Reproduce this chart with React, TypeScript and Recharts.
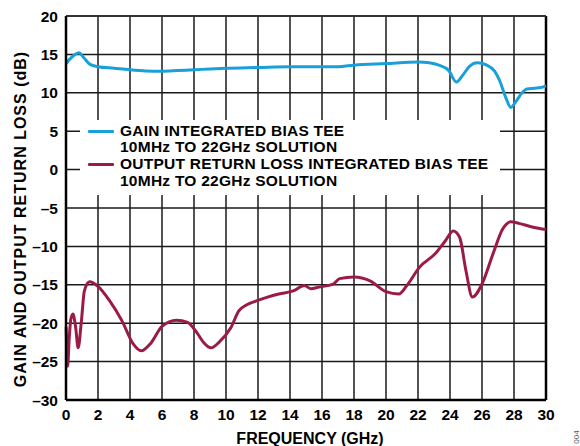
import React from 'react';
import { LineChart, Line, XAxis, YAxis, CartesianGrid, ReferenceLine } from 'recharts';

const xTicks = [0, 2, 4, 6, 8, 10, 12, 14, 16, 18, 20, 22, 24, 26, 28, 30];
const yTicks = [-30, -25, -20, -15, -10, -5, 0, 5, 10, 15, 20];

const gainFreq = [0.02, 0.2, 0.5, 0.8, 1.1, 1.5, 2, 3, 4, 5, 6, 7, 8, 9, 10, 12, 14, 16, 17, 18, 20, 22, 22.7, 23.3, 23.9, 24.4, 24.8, 25.2, 25.7, 26.3, 26.8, 27.1, 27.5, 27.8, 28.1, 28.5, 28.8, 29.3, 29.7, 30];
const gainVals = [13.8, 14.3, 14.9, 15.2, 14.6, 13.7, 13.4, 13.2, 13.0, 12.85, 12.8, 12.9, 13.0, 13.1, 13.2, 13.3, 13.4, 13.4, 13.4, 13.6, 13.8, 14.0, 13.9, 13.6, 12.95, 11.4, 12.3, 13.4, 13.9, 13.6, 12.8, 11.6, 9.3, 8.1, 8.8, 10.0, 10.5, 10.6, 10.7, 10.9];

const rlFreq = [0.01, 0.1, 0.2, 0.3, 0.43, 0.6, 0.76, 0.95, 1.15, 1.47, 2, 2.7, 3.5, 4.2, 4.7, 5.3, 6.0, 6.9, 7.6, 8.2, 8.6, 9.07, 9.6, 10.3, 10.8, 11.3, 11.9, 12.6, 13.3, 14.2, 14.9, 15.3, 15.8, 16.7, 17.1, 18.0, 19.0, 20.0, 20.8, 21.3, 22.1, 23.1, 23.7, 24.2, 24.6, 25.0, 25.4, 26.0, 26.7, 27.3, 27.8, 28.3, 29.2, 30];
const rlVals = [-20.5, -25.6, -22, -19.5, -18.8, -20.5, -23.2, -20, -15.8, -14.6, -15.2, -17.0, -19.7, -22.7, -23.6, -22.6, -20.4, -19.6, -19.9, -21.3, -22.5, -23.2, -22.4, -20.6, -18.4, -17.6, -17.1, -16.6, -16.2, -15.8, -15.1, -15.5, -15.3, -14.9, -14.2, -14.0, -14.5, -15.9, -16.2, -15.1, -12.7, -10.9, -9.3, -8.0, -8.8, -13.2, -16.6, -14.9, -10.9, -7.7, -6.8, -7.0, -7.5, -7.8];

const legendLines = [
  ['GAIN INTEGRATED BIAS TEE', '10MHz TO 22GHz SOLUTION'],
  ['OUTPUT RETURN LOSS INTEGRATED BIAS TEE', '10MHz TO 22GHz SOLUTION'],
];

const gainData = gainFreq.map((f, i) => ({ f, v: gainVals[i] }));
const rlData = rlFreq.map((f, i) => ({ f, v: rlVals[i] }));

const BLUE = '#1aa0d8';
const RED = '#9c1b45';
const FONT = '"Liberation Sans", Arial, Helvetica, sans-serif';

const fmt = (v: number) => (v < 0 ? '\u2013' + Math.abs(v) : String(v));

export default function App() {
  const tickStyle = { fill: '#000', fontSize: 15.5, fontWeight: 700, fontFamily: FONT };
  return (
    <div style={{ position: 'absolute', left: 0, top: 0, width: 580, height: 446, background: '#fff', fontFamily: FONT }}>
      <LineChart width={580} height={446} margin={{ top: 16, right: 34, bottom: 16, left: 10 }}>
        <CartesianGrid stroke="#1a1a1a" strokeWidth={1.5} strokeOpacity={1} />
        <XAxis
          type="number"
          dataKey="f"
          domain={[0, 30]}
          ticks={xTicks}
          interval={0}
          height={30}
          tickLine={false}
          tickSize={7}
          axisLine={{ stroke: '#000', strokeWidth: 2.5 }}
          tick={tickStyle}
          allowDuplicatedCategory={false}
        />
        <YAxis
          type="number"
          domain={[-30, 20]}
          ticks={yTicks}
          interval={0}
          width={56}
          tickLine={false}
          tickSize={6}
          axisLine={{ stroke: '#000', strokeWidth: 2.5 }}
          tick={tickStyle}
          tickFormatter={fmt}
        />
        <ReferenceLine x={30} stroke="#000" strokeWidth={2.5} />
        <ReferenceLine y={20} stroke="#333" strokeWidth={2} />
        <Line data={gainData} dataKey="v" type="monotone" stroke={BLUE} strokeWidth={3} dot={false} isAnimationActive={false} />
        <Line data={rlData} dataKey="v" type="monotone" stroke={RED} strokeWidth={3} dot={false} isAnimationActive={false} />
      </LineChart>
      <div style={{ position: 'absolute', left: 80, top: 120, width: 420, height: 75, background: '#fff' }}>
        {legendLines.map((lines, i) => (
          <div key={i} style={{ position: 'absolute', left: 0, top: 2.5 + i * 33.5, width: 420 }}>
            <div style={{ position: 'absolute', left: 8, top: 7, width: 26, height: 3, background: i === 0 ? BLUE : RED, borderRadius: 1 }} />
            {lines.map((t, j) => (
              <div key={j} style={{ position: 'absolute', left: 40, top: j * 16.7, fontSize: 15.5, letterSpacing: 0.25, fontWeight: 700, lineHeight: '16.7px', whiteSpace: 'nowrap', color: '#000' }}>{t}</div>
            ))}
          </div>
        ))}
      </div>
      <div style={{ position: 'absolute', left: 200, top: 430, width: 220, textAlign: 'center', fontSize: 16, fontWeight: 700, lineHeight: '18px', whiteSpace: 'nowrap', color: '#000' }}>
        FREQUENCY (GHz)
      </div>
      <div style={{ position: 'absolute', left: 21, top: 219, width: 0, height: 0 }}>
        <div style={{ position: 'absolute', left: -200, top: -9, width: 400, textAlign: 'center', transform: 'rotate(-90deg)', fontSize: 16, letterSpacing: 1, fontWeight: 700, lineHeight: '18px', whiteSpace: 'nowrap', color: '#000' }}>
          GAIN AND OUTPUT RETURN LOSS (dB)
        </div>
      </div>
      <div style={{ position: 'absolute', left: 577, top: 437, width: 0, height: 0 }}>
        <div style={{ position: 'absolute', left: -15, top: -5, width: 30, textAlign: 'center', transform: 'rotate(-90deg)', fontSize: 8, lineHeight: '10px', color: '#555' }}>
          004
        </div>
      </div>
    </div>
  );
}
